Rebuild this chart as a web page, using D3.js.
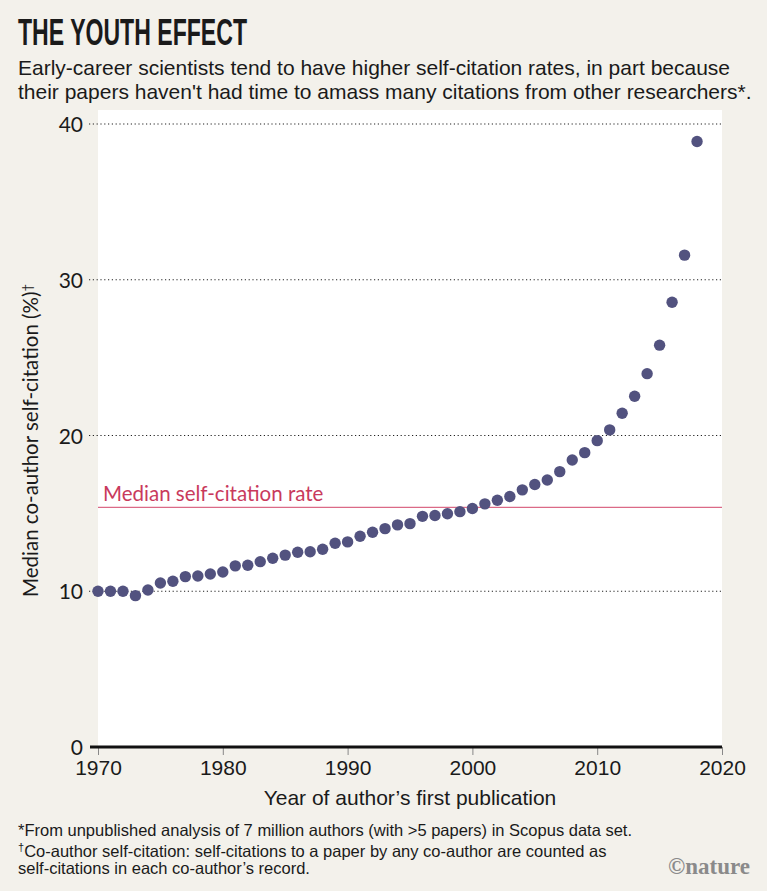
<!DOCTYPE html>
<html lang="en">
<head>
  <meta charset="utf-8">
  <title>The youth effect</title>
  <style>
    body {
      margin: 0;
      background: #f3f1eb;
    }
    svg text {
      fill: #1a1a1a;
    }
    .title {
      font: bold 36px "Liberation Sans Narrow", sans-serif;
    }
    .sub, .note {
      font-family: "Liberation Sans Narrow", sans-serif;
    }
    .sub { font-size: 21px; }
    .note { font-size: 16.5px; }
    .ytick text {
      font-family: Lato, sans-serif;
      font-size: 21px;
    }
    .ylab, .medlab {
      font-family: Lato, sans-serif;
      font-size: 20.5px;
    }
    .xtick text {
      font-family: "Liberation Sans", sans-serif;
      font-size: 21px;
    }
    .xlab {
      font: 21px "Liberation Sans Narrow", sans-serif;
    }
  </style>
</head>
<body>
<div id="chart"></div>
<script src="https://cdn.jsdelivr.net/npm/d3@7"></script>
<script>
  // values
  var years = [1970, 1971, 1972, 1973, 1974, 1975, 1976, 1977, 1978, 1979,
    1980, 1981, 1982, 1983, 1984, 1985, 1986, 1987, 1988, 1989,
    1990, 1991, 1992, 1993, 1994, 1995, 1996, 1997, 1998, 1999,
    2000, 2001, 2002, 2003, 2004, 2005, 2006, 2007, 2008, 2009,
    2010, 2011, 2012, 2013, 2014, 2015, 2016, 2017, 2018];
  var selfCitation = [10.0, 10.0, 10.0, 9.72, 10.08, 10.53, 10.64, 10.94, 10.98, 11.11,
    11.24, 11.63, 11.67, 11.9, 12.12, 12.32, 12.5, 12.54, 12.7, 13.08,
    13.17, 13.53, 13.79, 14.02, 14.26, 14.34, 14.81, 14.86, 14.98, 15.11,
    15.31, 15.61, 15.84, 16.08, 16.51, 16.85, 17.14, 17.68, 18.43, 18.9,
    19.67, 20.36, 21.43, 22.52, 23.97, 25.8, 28.56, 31.58, 38.88];
  var medianRate = 15.39;
  var xTicks = [1970, 1980, 1990, 2000, 2010, 2020];
  var yTicks = [0, 10, 20, 30, 40];

  var W = 767, H = 891;
  var plot = { left: 98, right: 722, top: 124, bottom: 747 };

  var svg = d3.select("#chart")
    .append("svg")
    .attr("width", W)
    .attr("height", H);

  var x = d3.scaleLinear().domain([1970, 2020]).range([plot.left, plot.right]);
  var y = d3.scaleLinear().domain([0, 40]).range([plot.bottom, plot.top]);

  // white plot panel
  svg.append("rect")
    .attr("x", plot.left)
    .attr("y", 110)
    .attr("width", plot.right - plot.left)
    .attr("height", plot.bottom - 110)
    .attr("fill", "white");

  // heading
  svg.append("text").attr("class", "title")
    .attr("x", 18).attr("y", 45)
    .attr("textLength", 229).attr("lengthAdjust", "spacingAndGlyphs")
    .text("THE YOUTH EFFECT");
  svg.append("text").attr("class", "sub")
    .attr("x", 18).attr("y", 75)
    .text("Early-career scientists tend to have higher self-citation rates, in part because");
  svg.append("text").attr("class", "sub")
    .attr("x", 18).attr("y", 99)
    .text("their papers haven't had time to amass many citations from other researchers*.");

  // dotted gridlines
  svg.selectAll(".grid")
    .data(yTicks.slice(1))
    .enter()
    .append("line")
    .attr("class", "grid")
    .attr("x1", 89).attr("x2", plot.right)
    .attr("y1", function (d) { return y(d); })
    .attr("y2", function (d) { return y(d); })
    .attr("stroke", "#222")
    .attr("stroke-width", 1.2)
    .attr("stroke-dasharray", "1.2,2.6");

  // y axis labels
  var yAxis = svg.append("g")
    .attr("class", "ytick")
    .attr("transform", "translate(" + plot.left + ",0)")
    .call(d3.axisLeft(y).tickValues(yTicks).tickSize(0).tickPadding(15));
  yAxis.select(".domain").remove();
  yAxis.selectAll("text").attr("dy", "0.36em");

  // x axis
  var xAxis = svg.append("g")
    .attr("class", "xtick")
    .attr("transform", "translate(0," + plot.bottom + ")")
    .call(d3.axisBottom(x).tickValues(xTicks).tickFormat(d3.format("d")).tickSize(8).tickPadding(5));
  xAxis.select(".domain").remove();
  xAxis.selectAll("line").attr("stroke", "#888");

  // zero baseline
  svg.append("line")
    .attr("x1", 90).attr("x2", plot.right)
    .attr("y1", y(0)).attr("y2", y(0))
    .attr("stroke", "#111")
    .attr("stroke-width", 3);

  // median line
  svg.append("line")
    .attr("x1", plot.left).attr("x2", plot.right)
    .attr("y1", y(medianRate)).attr("y2", y(medianRate))
    .attr("stroke", "#d2456a")
    .attr("stroke-width", 1);
  svg.append("text").attr("class", "medlab")
    .attr("x", 103).attr("y", y(medianRate) - 6)
    .style("fill", "#c93a5c")
    .text("Median self-citation rate");

  // points
  svg.selectAll("circle")
    .data(years)
    .enter()
    .append("circle")
    .attr("cx", function (d) { return x(d); })
    .attr("cy", function (d, i) { return y(selfCitation[i]); })
    .attr("r", 5.7)
    .attr("fill", "#52527f");

  // axis titles
  var ylab = svg.append("text").attr("class", "ylab")
    .attr("transform", "translate(38," + ((plot.top + plot.bottom) / 2 + 5) + ") rotate(-90)")
    .attr("text-anchor", "middle");
  ylab.append("tspan").text("Median co-author self-citation (%)");
  ylab.append("tspan").attr("dy", "-0.45em").style("font-size", "13px").text("†");

  svg.append("text").attr("class", "xlab")
    .attr("x", (plot.left + plot.right) / 2)
    .attr("y", 805)
    .attr("text-anchor", "middle")
    .text("Year of author’s first publication");

  // notes
  svg.append("text").attr("class", "note")
    .attr("x", 18).attr("y", 836)
    .text("*From unpublished analysis of 7 million authors (with >5 papers) in Scopus data set.");
  var n2 = svg.append("text").attr("class", "note")
    .attr("x", 18).attr("y", 855);
  n2.append("tspan").attr("dy", "-0.35em").style("font-size", "11px").text("†");
  n2.append("tspan").attr("dy", "0.35em").text("Co-author self-citation: self-citations to a paper by any co-author are counted as");
  svg.append("text").attr("class", "note")
    .attr("x", 18).attr("y", 874)
    .text("self-citations in each co-author’s record.");

  svg.append("text")
    .attr("x", 750).attr("y", 874)
    .attr("text-anchor", "end")
    .style("font", "bold 23px 'Liberation Serif', serif")
    .style("fill", "#8a8a8a")
    .text("©nature");
</script>
</body>
</html>
